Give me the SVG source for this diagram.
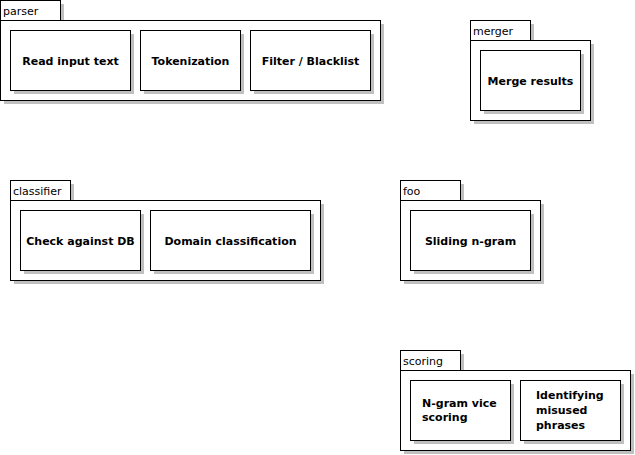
<svg xmlns="http://www.w3.org/2000/svg" width="635" height="455" viewBox="0 0 635 455">
<style>
.sh{fill:#c0c0c0;stroke:none}
.box{fill:#ffffff;stroke:#000000;stroke-width:1}
.tab{font-family:"DejaVu Sans",Verdana,sans-serif;font-size:11px;fill:#000}
.lbl{font-family:"DejaVu Sans",Verdana,sans-serif;font-size:11px;font-weight:bold;fill:#000;text-anchor:middle}
.lbll{font-family:"DejaVu Sans",Verdana,sans-serif;font-size:11px;font-weight:bold;fill:#000}
</style>
<rect width="635" height="455" fill="#ffffff"/>
<g id="pkg-parser">
<rect class="sh" x="4" y="4" width="60" height="20"/>
<rect class="sh" x="4" y="24" width="380" height="80"/>
<rect class="box" x="0.5" y="0.5" width="60" height="20"/>
<rect class="box" x="0.5" y="20.5" width="380" height="80"/>
<text class="tab" x="3" y="15">parser</text>
</g>
<g id="node-read">
<rect class="sh" x="14" y="34" width="120" height="60"/>
<rect class="box" x="10.5" y="30.5" width="120" height="60"/>
<text class="lbl" x="70.5" y="64.5">Read input text</text>
</g>
<g id="node-token">
<rect class="sh" x="144" y="34" width="100" height="60"/>
<rect class="box" x="140.5" y="30.5" width="100" height="60"/>
<text class="lbl" x="190.5" y="64.5">Tokenization</text>
</g>
<g id="node-filter">
<rect class="sh" x="254" y="34" width="120" height="60"/>
<rect class="box" x="250.5" y="30.5" width="120" height="60"/>
<text class="lbl" x="310.5" y="64.5">Filter / Blacklist</text>
</g>
<g id="pkg-merger">
<rect class="sh" x="474" y="24" width="60" height="20"/>
<rect class="sh" x="474" y="44" width="120" height="80"/>
<rect class="box" x="470.5" y="20.5" width="60" height="20"/>
<rect class="box" x="470.5" y="40.5" width="120" height="80"/>
<text class="tab" x="473" y="35">merger</text>
</g>
<g id="node-merge">
<rect class="sh" x="484" y="54" width="100" height="60"/>
<rect class="box" x="480.5" y="50.5" width="100" height="60"/>
<text class="lbl" x="530.5" y="84.5">Merge results</text>
</g>
<g id="pkg-classifier">
<rect class="sh" x="14" y="184" width="60" height="20"/>
<rect class="sh" x="14" y="204" width="310" height="80"/>
<rect class="box" x="10.5" y="180.5" width="60" height="20"/>
<rect class="box" x="10.5" y="200.5" width="310" height="80"/>
<text class="tab" x="13" y="195">classifier</text>
</g>
<g id="node-check">
<rect class="sh" x="24" y="214" width="120" height="60"/>
<rect class="box" x="20.5" y="210.5" width="120" height="60"/>
<text class="lbl" x="80.5" y="244.5">Check against DB</text>
</g>
<g id="node-domain">
<rect class="sh" x="154" y="214" width="160" height="60"/>
<rect class="box" x="150.5" y="210.5" width="160" height="60"/>
<text class="lbl" x="230.5" y="244.5">Domain classification</text>
</g>
<g id="pkg-foo">
<rect class="sh" x="404" y="184" width="60" height="20"/>
<rect class="sh" x="404" y="204" width="140" height="80"/>
<rect class="box" x="400.5" y="180.5" width="60" height="20"/>
<rect class="box" x="400.5" y="200.5" width="140" height="80"/>
<text class="tab" x="403" y="195">foo</text>
</g>
<g id="node-sliding">
<rect class="sh" x="414" y="214" width="120" height="60"/>
<rect class="box" x="410.5" y="210.5" width="120" height="60"/>
<text class="lbl" x="470.5" y="244.5">Sliding n-gram</text>
</g>
<g id="pkg-scoring">
<rect class="sh" x="404" y="354" width="60" height="20"/>
<rect class="sh" x="404" y="374" width="230" height="80"/>
<rect class="box" x="400.5" y="350.5" width="60" height="20"/>
<rect class="box" x="400.5" y="370.5" width="230" height="80"/>
<text class="tab" x="403" y="365">scoring</text>
</g>
<g id="node-ngram">
<rect class="sh" x="414" y="384" width="100" height="60"/>
<rect class="box" x="410.5" y="380.5" width="100" height="60"/>
<text class="lbll" x="422" y="407">N-gram vice</text>
<text class="lbll" x="422" y="421">scoring</text>
</g>
<g id="node-identify">
<rect class="sh" x="524" y="384" width="100" height="60"/>
<rect class="box" x="520.5" y="380.5" width="100" height="60"/>
<text class="lbll" x="536" y="399">Identifying</text>
<text class="lbll" x="536" y="414">misused</text>
<text class="lbll" x="536" y="429">phrases</text>
</g>
<g id="connectors"></g>
</svg>
